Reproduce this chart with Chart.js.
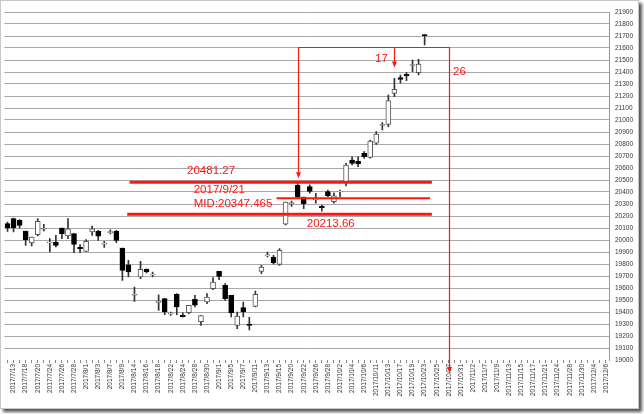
<!DOCTYPE html>
<html>
<head>
<meta charset="utf-8">
<script src="https://cdn.jsdelivr.net/npm/chart.js@4.4.0/dist/chart.umd.min.js"></script>
<style>
  html, body { margin: 0; padding: 0; background: #fff; }
  #frame {
    position: absolute; left: 0; top: 0;
    width: 637px; height: 407px;
    border: 1px solid #c8c8c8;
    box-shadow: 3px 3px 3px #555;
    background: #fff;
  }
  #wrap { position: absolute; left: 0; top: 0; width: 644px; height: 414px; }
</style>
</head>
<body>
<div id="frame"></div>
<div id="wrap"><canvas id="chart" width="644" height="414"></canvas></div>
<script>
// trading days, 2017/7/12 .. 2017/12/6
const dates = [
  '2017/7/12', '2017/7/13', '2017/7/14', '2017/7/18', '2017/7/19', '2017/7/20', '2017/7/21',
  '2017/7/24', '2017/7/25', '2017/7/26', '2017/7/27', '2017/7/28', '2017/7/31',
  '2017/8/1', '2017/8/2', '2017/8/3', '2017/8/4', '2017/8/7', '2017/8/8', '2017/8/9', '2017/8/10',
  '2017/8/14', '2017/8/15', '2017/8/16', '2017/8/17', '2017/8/18', '2017/8/21', '2017/8/22',
  '2017/8/23', '2017/8/24', '2017/8/25', '2017/8/28', '2017/8/29', '2017/8/30', '2017/8/31',
  '2017/9/1', '2017/9/4', '2017/9/5', '2017/9/6', '2017/9/7', '2017/9/8', '2017/9/11',
  '2017/9/12', '2017/9/13', '2017/9/14', '2017/9/15', '2017/9/19', '2017/9/20', '2017/9/21',
  '2017/9/22', '2017/9/25', '2017/9/26', '2017/9/27', '2017/9/28', '2017/9/29',
  '2017/10/2', '2017/10/3', '2017/10/4', '2017/10/5', '2017/10/6', '2017/10/10', '2017/10/11',
  '2017/10/12', '2017/10/13', '2017/10/16', '2017/10/17', '2017/10/18', '2017/10/19',
  '2017/10/20', '2017/10/23', '2017/10/24', '2017/10/25', '2017/10/26', '2017/10/27',
  '2017/10/30', '2017/10/31', '2017/11/1', '2017/11/2', '2017/11/6', '2017/11/7', '2017/11/8',
  '2017/11/9', '2017/11/10', '2017/11/13', '2017/11/14', '2017/11/15', '2017/11/16',
  '2017/11/17', '2017/11/20', '2017/11/21', '2017/11/22', '2017/11/24', '2017/11/27',
  '2017/11/28', '2017/11/29', '2017/11/30', '2017/12/1', '2017/12/4', '2017/12/5', '2017/12/6'
];

const opens = [
  20136, 20178, 20164, 20075, 19975, 20044, 20090, 19978, 19980, 20100,
  20033, 20053, 19939, 19905, 20067, 20072, 19965, 20062, 20072, 19933,
  19794, 19540, 19692, 19756, 19708, 19480, 19511, 19383, 19547, 19372,
  19394, 19506, 19320, 19483, 19594, 19739, 19622, 19539, 19289, 19436,
  19300, 19447, 19739, 19868, 19858, 19797, 20131, 20303, 20456, 20358,
  20445, 20336, 20280, 20403, 20319, 20400, 20486, 20667, 20655, 20722,
  20689, 20806, 20955, 20964, 21222, 21353, 21381, 21455, 21394, 21712
];
const highs = [
  20150, 20183, 20170, 20075, 20025, 20178, 20130, 20011, 20039, 20100,
  20178, 20053, 19961, 20003, 20117, 20080, 19989, 20085, 20080, 19933,
  19830, 19608, 19822, 19760, 19733, 19544, 19511, 19400, 19553, 19394,
  19456, 19539, 19370, 19553, 19686, 19739, 19636, 19539, 19400, 19483,
  19355, 19575, 19789, 19900, 19872, 19928, 20317, 20325, 20481, 20358,
  20460, 20389, 20290, 20417, 20394, 20417, 20639, 20694, 20694, 20736,
  20833, 20903, 20978, 21208, 21347, 21375, 21395, 21500, 21505, 21712
];
const lows = [
  20072, 20067, 20100, 19955, 19950, 20033, 20075, 19900, 19942, 20011,
  20011, 19894, 19894, 19905, 20039, 19997, 19939, 20050, 19978, 19664,
  19692, 19489, 19678, 19725, 19692, 19414, 19378, 19372, 19378, 19358,
  19386, 19442, 19289, 19469, 19586, 19669, 19497, 19358, 19261, 19358,
  19250, 19442, 19719, 19860, 19800, 19789, 20125, 20280, 20350, 20261,
  20390, 20306, 20240, 20361, 20306, 20361, 20450, 20625, 20611, 20680,
  20681, 20797, 20917, 20944, 21194, 21306, 21328, 21403, 21375, 21625
];
const closes = [
  20100, 20103, 20122, 20003, 20025, 20156, 20098, 19983, 19955, 20053,
  20094, 19964, 19928, 19989, 20094, 20031, 19975, 20070, 19997, 19747,
  19733, 19548, 19756, 19733, 19716, 19488, 19400, 19390, 19442, 19362,
  19456, 19456, 19370, 19525, 19650, 19697, 19511, 19392, 19367, 19400,
  19288, 19547, 19775, 19876, 19808, 19914, 20317, 20311, 20358, 20303,
  20405, 20344, 20270, 20369, 20369, 20407, 20625, 20639, 20635, 20694,
  20825, 20883, 20962, 21161, 21256, 21339, 21367, 21462, 21467, 21702
];

// red markings
const red = 'rgb(255, 20, 20)';
const levelLines = [
  { value: 20481.27, from: 20.2, to: 70.2, width: 3 },
  { value: 20347.465, from: 44.5, to: 69.9, width: 2 },
  { value: 20213.66, from: 19.8, to: 70.2, width: 3 }
];
const countTop = 21610;
const countStart = 48;   // 2017/9/21
const countMark = 64;    // day 17
const countEnd = 73;     // day 26

const bodyColors = opens.map((o, i) => (closes[i] >= o ? '#fff' : '#000'));
const bodyBorders = opens.map((o, i) => (closes[i] >= o ? '#555' : '#000'));

function arrowDown(ctx, px, py) {
  ctx.beginPath();
  ctx.moveTo(px - 2.5, py - 6);
  ctx.lineTo(px + 2.5, py - 6);
  ctx.lineTo(px, py);
  ctx.closePath();
  ctx.fill();
}

const markerPlugin = {
  id: 'markers',
  afterDatasetsDraw(chart) {
    const { ctx, scales: { x, y } } = chart;
    ctx.save();
    ctx.strokeStyle = red;
    ctx.fillStyle = red;

    levelLines.forEach(l => {
      const py = y.getPixelForValue(l.value);
      ctx.lineWidth = l.width;
      ctx.beginPath();
      ctx.moveTo(x.getPixelForValue(l.from), py);
      ctx.lineTo(x.getPixelForValue(l.to), py);
      ctx.stroke();
    });

    // day count frame
    const top = Math.round(y.getPixelForValue(countTop)) + 0.5;
    const xs = Math.round(x.getPixelForValue(countStart)) + 0.5;
    const xm = Math.round(x.getPixelForValue(countMark)) + 0.5;
    const xe = Math.round(x.getPixelForValue(countEnd)) + 0.5;
    const hiPx = y.getPixelForValue(levelLines[0].value);
    ctx.lineWidth = 1.2;
    ctx.beginPath();
    ctx.moveTo(xs, hiPx - 6);
    ctx.lineTo(xs, top);
    ctx.lineTo(xe, top);
    ctx.lineTo(xe, chart.chartArea.bottom + 8);
    ctx.moveTo(xm, top);
    ctx.lineTo(xm, top + 15);
    ctx.stroke();
    arrowDown(ctx, xs, hiPx - 4);
    arrowDown(ctx, xm, top + 20);
    arrowDown(ctx, xe, chart.chartArea.bottom + 13);

    ctx.font = '11.5px "Liberation Sans", Arial, sans-serif';
    ctx.textBaseline = 'alphabetic';
    ctx.textAlign = 'left';
    const midPx = y.getPixelForValue(levelLines[1].value);
    const loPx = y.getPixelForValue(levelLines[2].value);
    ctx.fillText('20481.27', x.getPixelForValue(29.7), hiPx - 8);
    ctx.fillText('2017/9/21', x.getPixelForValue(30.8), midPx - 5);
    ctx.fillText('MID:20347.465', x.getPixelForValue(30.8), midPx + 9);
    ctx.fillText('20213.66', x.getPixelForValue(49.5), loPx + 13);
    ctx.fillText('17', x.getPixelForValue(60.8), top + 14);
    ctx.fillText('26', x.getPixelForValue(73.7), top + 27);
    ctx.restore();
  }
};

const config = {
  type: 'bar',
  data: {
    labels: dates,
    datasets: [
      {
        label: 'body',
        data: opens.map((o, i) => [o, closes[i]]),
        backgroundColor: bodyColors,
        borderColor: bodyBorders,
        borderWidth: 1,
        borderSkipped: false,
        barThickness: 5,
        grouped: false
      },
      {
        label: 'wick',
        data: lows.map((l, i) => [l, highs[i]]),
        backgroundColor: '#333',
        borderWidth: 0,
        barThickness: 1,
        grouped: false
      }
    ]
  },
  options: {
    responsive: false,
    animation: false,
    devicePixelRatio: 1,
    layout: { padding: { left: 4.5, right: 0, top: 12, bottom: 0 } },
    plugins: {
      legend: { display: false },
      tooltip: { enabled: false }
    },
    scales: {
      x: {
        type: 'category',
        offset: true,
        border: { display: false },
        grid: {
          display: true,
          drawOnChartArea: false,
          drawTicks: true,
          tickLength: 3,
          color: '#888',
          offset: false
        },
        ticks: {
          autoSkip: false,
          minRotation: 90,
          maxRotation: 90,
          padding: 1,
          color: '#333',
          font: { family: '"Liberation Sans", Arial, sans-serif', size: 6.5 },
          callback: (val, idx) => (idx % 2 === 1 ? dates[idx] : '')
        },
        afterFit: scale => { scale.height = 54; }
      },
      y: {
        position: 'right',
        min: 19000,
        max: 21900,
        border: { display: true, color: '#999' },
        grid: {
          color: ctx => (ctx.tick && ctx.tick.value === 19000 ? 'rgba(0,0,0,0)' : '#a8a8a8'),
          drawTicks: false
        },
        ticks: {
          stepSize: 100,
          padding: 6,
          color: '#333',
          font: { family: '"Liberation Sans", Arial, sans-serif', size: 6.5 },
          callback: value => String(value)
        },
        afterFit: scale => { scale.width = 35; }
      }
    }
  },
  plugins: [markerPlugin]
};

const candleChart = new Chart(document.getElementById('chart'), config);
</script>
</body>
</html>
